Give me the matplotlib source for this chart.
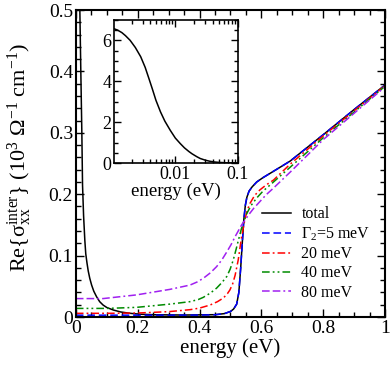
import numpy as np
import matplotlib
matplotlib.use("Agg")
import matplotlib.pyplot as plt
from matplotlib.ticker import MultipleLocator, FixedLocator, NullFormatter

plt.rcParams["font.family"] = "Liberation Serif"
plt.rcParams["mathtext.fontset"] = "custom"
plt.rcParams["mathtext.rm"] = "Liberation Serif"
plt.rcParams["mathtext.it"] = "Liberation Serif:italic"
plt.rcParams["font.size"] = 14

# ---- main panel data (energy in eV, Re sigma in 10^3 Ohm^-1 cm^-1) ----
e_total = [0.0129, 0.016, 0.0194, 0.0216, 0.025, 0.029, 0.032, 0.036, 0.040, 0.045,
           0.051, 0.058, 0.067, 0.077, 0.088, 0.10, 0.121, 0.145, 0.175, 0.21, 0.25,
           0.35, 0.45, 0.48, 0.50, 0.51, 0.52, 0.527, 0.533, 0.538, 0.543, 0.548,
           0.553, 0.56, 0.57, 0.585, 0.605, 0.628, 0.693, 0.8, 0.9, 1.0]
s_total = [0.5, 0.402, 0.299, 0.215, 0.165, 0.125, 0.103, 0.088, 0.075, 0.063,
           0.052, 0.042, 0.033, 0.025, 0.0195, 0.0155, 0.0114, 0.0082, 0.006, 0.0045,
           0.0037, 0.0032, 0.0038, 0.0055, 0.009, 0.013, 0.021, 0.04, 0.08, 0.12,
           0.158, 0.182, 0.195, 0.205, 0.212, 0.22, 0.227, 0.234, 0.254, 0.297,
           0.338, 0.378]

e_5 = [0.0, 0.1, 0.2, 0.3, 0.4, 0.45, 0.48, 0.50, 0.51, 0.52, 0.527, 0.533, 0.538,
       0.543, 0.548, 0.553, 0.56, 0.57, 0.585, 0.605, 0.628, 0.693, 0.8, 0.9, 1.0]
s_5 = [0.003, 0.003, 0.003, 0.003, 0.0032, 0.0036, 0.0055, 0.009, 0.013, 0.021, 0.04,
       0.08, 0.12, 0.158, 0.182, 0.195, 0.205, 0.212, 0.22, 0.227, 0.234, 0.254,
       0.297, 0.338, 0.378]

e_20 = [0.0, 0.1, 0.2, 0.3, 0.37, 0.40, 0.434, 0.458, 0.477, 0.49, 0.498, 0.507,
        0.515, 0.525, 0.536, 0.547, 0.555, 0.563, 0.578, 0.595, 0.615, 0.639, 0.693,
        0.8, 0.9, 1.0]
s_20 = [0.006, 0.006, 0.0065, 0.0087, 0.012, 0.0145, 0.0195, 0.025, 0.031, 0.038, 0.044,
        0.054, 0.068, 0.093, 0.131, 0.160, 0.175, 0.185, 0.198, 0.207, 0.215, 0.223,
        0.249, 0.295, 0.336, 0.377]

e_40 = [0.0, 0.1, 0.196, 0.304, 0.369, 0.396, 0.412, 0.435, 0.455, 0.472, 0.488,
        0.499, 0.509, 0.518, 0.525, 0.536, 0.552, 0.567, 0.585, 0.605, 0.628, 0.693,
        0.8, 0.9, 1.0]
s_40 = [0.014, 0.014, 0.0157, 0.021, 0.025, 0.0285, 0.032, 0.039, 0.047, 0.056, 0.066,
        0.078, 0.093, 0.11, 0.124, 0.145, 0.168, 0.182, 0.194, 0.205, 0.215, 0.244,
        0.292, 0.334, 0.376]

e_80 = [0.0, 0.088, 0.196, 0.304, 0.369, 0.392, 0.412, 0.435, 0.455, 0.472, 0.488,
        0.502, 0.515, 0.536, 0.558, 0.575, 0.595, 0.615, 0.639, 0.693, 0.8, 0.9, 1.0]
s_80 = [0.030, 0.030, 0.036, 0.045, 0.052, 0.057, 0.063, 0.072, 0.082, 0.093, 0.106,
        0.118, 0.131, 0.15, 0.166, 0.177, 0.188, 0.199, 0.21, 0.236, 0.289, 0.332,
        0.375]

# ---- inset data ----
e_in = [0.00105, 0.0012, 0.0014, 0.0016, 0.0019, 0.0023, 0.0028, 0.0033, 0.0038,
        0.0043, 0.0049, 0.0058, 0.0068, 0.0083, 0.01, 0.012, 0.014, 0.0165, 0.0185,
        0.022, 0.025, 0.03, 0.035, 0.042, 0.05, 0.065, 0.08, 0.1]
s_in = [6.57, 6.5, 6.38, 6.23, 6.0, 5.65, 5.2, 4.68, 4.12, 3.62, 3.07, 2.5, 2.05,
        1.6, 1.22, 0.95, 0.74, 0.56, 0.45, 0.31, 0.22, 0.14, 0.09, 0.05, 0.03,
        0.012, 0.004, 0.0]

fig = plt.figure(figsize=(3.91, 3.65), dpi=100)
ax = fig.add_axes([0.194, 0.1315, 0.791, 0.841])

lw = 1.1
ax.plot(e_total, s_total, color="black", lw=lw, label="total")
ax.plot(e_5, s_5, color="#0000ff", lw=lw, ls=(0, (5, 2.5)), label="Γ$_2$=5 meV")
ax.plot(e_20, s_20, color="#ff0000", lw=lw, ls=(0, (5, 2, 1.2, 2)), label="20 meV")
ax.plot(e_40, s_40, color="#008b00", lw=lw, ls=(0, (5, 2, 1.2, 2, 1.2, 2)), label="40 meV")
ax.plot(e_80, s_80, color="#a020f0", lw=lw, ls=(0, (5, 2, 5, 2, 1.2, 2)), label="80 meV")

ax.set_xlim(0, 1)
ax.set_ylim(0, 0.5)
ax.xaxis.set_major_locator(FixedLocator([0, 0.2, 0.4, 0.6, 0.8, 1.0]))
ax.set_xticklabels(["0", "0.2", "0.4", "0.6", "0.8", "1"])
ax.xaxis.set_minor_locator(MultipleLocator(0.05))
ax.yaxis.set_major_locator(FixedLocator([0, 0.1, 0.2, 0.3, 0.4, 0.5]))
ax.set_yticklabels(["0", "0.1", "0.2", "0.3", "0.4", "0.5"])
ax.yaxis.set_minor_locator(MultipleLocator(0.02))
ax.tick_params(which="both", direction="in", top=True, right=True, width=1)
ax.tick_params(which="major", length=6, labelsize=14, pad=2)
ax.tick_params(which="minor", length=3.5)
for sp in ax.spines.values():
    sp.set_linewidth(1.5)

ax.set_xlabel("energy (eV)", fontsize=15, labelpad=1)
ax.set_ylabel("Re{$\\mathregular{σ_{xx}^{inter}}$} (10$^3$ Ω$^{-1}$ cm$^{-1}$)",
              fontsize=16, labelpad=0)
ax.yaxis.set_label_coords(-0.135, 0.52)

ax.legend(loc="upper left", bbox_to_anchor=(0.603, 0.36), frameon=False,
          fontsize=11.5, handlelength=1.8, handletextpad=0.65, labelspacing=0.2,
          borderpad=0, borderaxespad=0)

# ---- inset ----
ins = fig.add_axes([0.2916, 0.5534, 0.317, 0.392])
ins.plot(e_in, s_in, color="black", lw=1.1)
ins.set_xscale("log")
ins.set_xlim(0.00105, 0.1)
ins.set_ylim(0, 7)
ins.xaxis.set_major_locator(FixedLocator([0.01, 0.1]))
ins.set_xticklabels(["0.01", "0.1"])
ins.xaxis.set_minor_formatter(NullFormatter())
ins.yaxis.set_major_locator(FixedLocator([0, 2, 4, 6]))
ins.set_yticklabels(["0", "2", "4", "6"])
ins.yaxis.set_minor_locator(MultipleLocator(0.5))
ins.tick_params(which="both", direction="in", top=True, right=True, width=1)
ins.tick_params(which="major", length=5, labelsize=13, pad=2)
ins.tick_params(which="minor", length=3)
for sp in ins.spines.values():
    sp.set_linewidth(1.2)
ins.set_xlabel("energy (eV)", fontsize=13.5, labelpad=0)

fig.savefig("out.png", dpi=100)
